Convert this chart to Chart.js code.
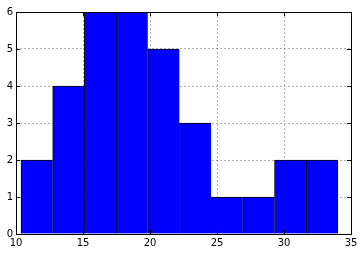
<!DOCTYPE html>
<html>
<head>
<meta charset="utf-8">
<script src="https://cdn.jsdelivr.net/npm/chart.js@4/dist/chart.umd.min.js"></script>
<style>
  html, body { margin: 0; padding: 0; background: #fff; }
  #wrap { width: 364px; height: 256px; }
</style>
</head>
<body>
<div id="wrap"><canvas id="myChart"></canvas></div>
<script>
// histogram bins
const binEdges = [10.37, 12.74, 15.1, 17.47, 19.83, 22.2, 24.56, 26.93, 29.29, 31.66, 34.02];
const counts = [2, 4, 6, 6, 5, 3, 1, 1, 2, 2];
const xTicks = [10, 15, 20, 25, 30, 35];
const yTicks = [0, 1, 2, 3, 4, 5, 6];

const barData = counts.map(function (c, i) {
  return { x: (binEdges[i] + binEdges[i + 1]) / 2, y: c };
});

// box round the plot and inward ticks on all four sides, like matplotlib classic
const framePlugin = {
  id: "frame",
  afterDraw(chart) {
    const ctx = chart.ctx;
    const a = chart.chartArea;
    const xs = chart.scales.x;
    const ys = chart.scales.y;
    ctx.save();
    ctx.strokeStyle = "#000";
    ctx.lineWidth = 1;
    ctx.beginPath();
    xTicks.forEach(function (v) {
      const px = Math.round(xs.getPixelForValue(v)) + 0.5;
      ctx.moveTo(px, a.bottom);
      ctx.lineTo(px, a.bottom - 4);
      ctx.moveTo(px, a.top);
      ctx.lineTo(px, a.top + 4);
    });
    yTicks.forEach(function (v) {
      const py = Math.round(ys.getPixelForValue(v)) + 0.5;
      ctx.moveTo(a.left, py);
      ctx.lineTo(a.left + 4, py);
      ctx.moveTo(a.right, py);
      ctx.lineTo(a.right - 4, py);
    });
    ctx.stroke();
    ctx.strokeRect(Math.round(a.left) + 0.5, Math.round(a.top) + 0.5,
      Math.round(a.right - a.left), Math.round(a.bottom - a.top));
    ctx.restore();
  },
};

const myChart = new Chart("myChart", {
  type: "bar",
  data: {
    datasets: [
      {
        data: barData,
        backgroundColor: "#0000ff",
        borderColor: "#000",
        borderSkipped: false,
        borderWidth: function (context) {
          const last = context.dataIndex === counts.length - 1;
          return { left: 1, top: 1, right: last ? 1 : 0, bottom: 0 };
        },
        barPercentage: 1,
        categoryPercentage: 1,
      },
    ],
  },
  options: {
    responsive: true,
    maintainAspectRatio: false,
    animation: false,
    layout: {
      padding: { left: 0, right: 13, top: 12, bottom: 0 },
    },
    font: { family: "DejaVu Sans", size: 10 },
    scales: {
      x: {
        type: "linear",
        min: 10,
        max: 35,
        offset: false,
        z: 1,
        afterFit: function (scale) {
          scale.height = 22;
        },
        afterBuildTicks: function (scale) {
          scale.ticks = xTicks.map(function (v) { return { value: v }; });
        },
        border: { display: false, dash: [2, 2] },
        grid: {
          offset: false,
          color: "rgba(0,0,0,0.3)",
          drawTicks: false,
        },
        ticks: {
          color: "#000",
          padding: 3,
          font: { family: "DejaVu Sans", size: 10 },
        },
      },
      y: {
        min: 0,
        max: 6,
        z: 1,
        afterFit: function (scale) {
          scale.width = 16;
        },
        afterBuildTicks: function (scale) {
          scale.ticks = yTicks.map(function (v) { return { value: v }; });
        },
        border: { display: false, dash: [2, 2] },
        grid: {
          color: "rgba(0,0,0,0.3)",
          drawTicks: false,
        },
        ticks: {
          color: "#000",
          padding: 3,
          font: { family: "DejaVu Sans", size: 10 },
        },
      },
    },
    plugins: {
      legend: { display: false },
      tooltip: { enabled: false },
    },
  },
  plugins: [framePlugin],
});
</script>
</body>
</html>
